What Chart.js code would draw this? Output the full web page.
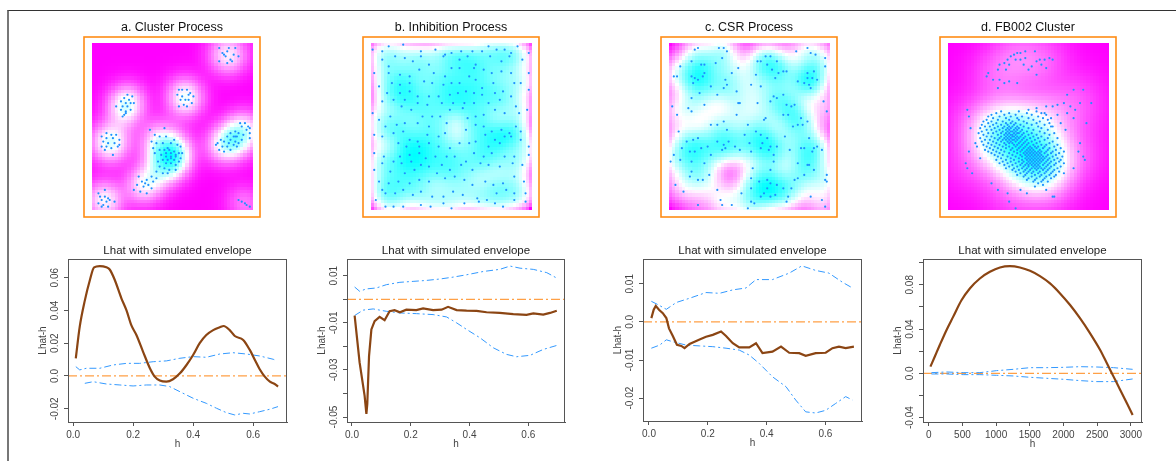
<!DOCTYPE html>
<html>
<head>
<meta charset="utf-8">
<script src="https://cdn.jsdelivr.net/npm/chart.js@4.4.1/dist/chart.umd.min.js"></script>
<style>
    body { margin: 0; background: #fff; width: 1176px; height: 461px; overflow: hidden; position: relative; }
    #frame { position: absolute; left: 7px; top: 10px; right: 0; bottom: 0; border-top: 1px solid #333; border-left: 2px solid #777; }
    canvas { position: absolute; }
</style>
</head>
<body>
<div id="frame"></div>
<script>
// Point patterns, in percent of the unit window (x right, y up).
const clusterPoints = [
    [79,97],[85,97],[89,97],[81,94],[84,95],[88,93],[91,92],[83,92],[86,90],[79,89],[84,88],[87,89],[82,93],
    [54,72],[56,72],[59,72],[61,70],[53,69],[56,68],[60,69],[63,68],[55,66],[58,66],[60,66],[62,64],[54,62],[57,63],[59,62],
    [22,69],[25,68],[20,67],[23,66],[18,65],[21,64],[24,64],[15,62],[19,62],[22,62],[26,64],[18,60],[21,59],[24,60],[20,57],[19,56],[21,58],
    [9,46],[12,45],[15,45],[6,44],[9,43],[13,43],[17,42],[7,41],[10,40],[14,40],[17,39],[6,38],[9,38],[12,37],[16,38],[13,33],[8,36],
    [36,48],[45,49],[39,45],[42,44],[46,44],[51,42],[37,41],[40,40],[44,40],[49,40],[53,39],[55,38],
    [38,37],[42,36],[45,36],[48,36],[51,35],[54,34],[56,34],[39,34],[43,33],[46,32],[49,32],[52,32],[55,31],[44,30],[47,30],[51,30],
    [54,29],[41,29],[46,28],[49,28],[52,27],[42,26],[45,25],[48,24],[52,24],[40,23],[44,22],[47,22],
    [46,34],[49,34],[47,37],[52,33],[49,31],
    [37,20],[40,19],[34,18],[38,17],[31,17],[35,15],[28,15],[32,14],[37,13],[26,12],[30,11],[34,10],[33,16],[29,20],
    [92,52],[95,52],[97,50],[98,49],[93,50],[96,48],[98,46],[98,43],[89,47],[91,46],[94,45],[86,46],[88,44],[90,44],[93,42],[84,44],
    [86,42],[89,41],[91,40],[80,42],[82,41],[85,40],[88,39],[90,38],[78,40],[81,38],[84,38],[86,36],[77,39],[79,36],[82,35],[89,44],
    [4,10],[8,12],[5,8],[8,8],[10,7],[6,6],[9,5],[11,6],[14,5],[4,4],[7,3],[10,2],[6,2],
    [91,6],[93,5],[95,4],[96,3],[98,2]
]

const inhibitionPoints = [
    [1,96],[7,95],[11,98],[20,99],[31,95],[40,96],[46,93],[50,94],[56,95],[63,95],[69,95],[73,98],[78,96],[83,96],[87,94],[91,98],[98,94],
    [7,90],[11,86],[15,92],[21,91],[26,89],[31,92],[36,87],[45,92],[55,90],[60,92],[65,87],[74,92],[81,89],[86,92],[94,90],
    [2,82],[11,82],[18,81],[24,80],[30,84],[39,82],[46,80],[50,85],[55,85],[64,85],[70,84],[75,82],[81,83],[87,82],[98,82],
    [5,74],[13,76],[18,75],[24,76],[33,77],[38,76],[45,75],[50,76],[55,76],[61,80],[65,78],[69,73],[76,76],[82,71],[89,76],[93,76],
    [10,70],[18,70],[24,71],[29,68],[36,68],[42,68],[49,69],[54,70],[59,71],[64,70],[69,69],[77,70],[87,68],[98,72],
    [7,65],[14,66],[21,66],[29,64],[35,63],[44,64],[51,64],[58,64],[64,64],[73,64],[80,66],[90,62],
    [1,58],[5,54],[12,56],[19,62],[25,60],[32,56],[38,56],[43,56],[49,60],[57,61],[60,55],[65,56],[70,57],[77,60],[83,58],[92,58],[97,60],
    [9,50],[16,51],[21,52],[29,52],[36,50],[47,52],[59,48],[65,51],[70,50],[75,47],[81,48],[86,46],[90,50],[93,47],[2,45],
    [7,44],[14,46],[20,47],[24,42],[29,41],[35,45],[42,44],[46,46],[65,41],[71,45],[77,42],[83,44],[87,44],[93,42],[98,38],
    [17,40],[22,38],[30,38],[36,40],[42,38],[49,37],[55,40],[61,40],[73,38],[80,40],
    [2,34],[8,32],[14,29],[18,32],[24,33],[30,34],[34,31],[40,32],[47,32],[52,32],[59,29],[64,34],[70,32],[75,34],[83,32],[89,32],[98,33],
    [7,28],[19,28],[25,29],[31,27],[36,26],[44,27],[49,24],[56,27],[63,24],[68,28],[73,27],[80,26],[88,28],[94,27],[12,23],[21,22],[27,24],[41,22],
    [2,24],[5,17],[11,16],[17,17],[24,16],[30,18],[36,17],[46,19],[52,20],[58,18],[63,15],[71,17],[76,15],[82,16],[89,20],[95,17],
    [9,10],[15,10],[20,12],[26,9],[31,11],[38,8],[45,8],[51,11],[57,9],[66,7],[72,6],[78,10],[84,12],[89,10],[96,10],[3,6],[7,12],
    [9,2],[14,2],[20,2],[31,3],[37,2],[45,4],[50,1],[58,4],[67,5],[77,4],[89,6],[96,5],[82,2]
]

const csrPoints = [
    [3,80],[5,80],[7,86],[14,89],[16,96],[18,97],[18,78],[16,79],[15,76],[14,80],[20,87],[22,87],[21,80],[19,70],[22,82],[26,74],[14,67],[29,88],[30,69],
    [31,97],[34,97],[33,91],[36,95],[39,82],[43,85],[35,78],[36,75],[34,73],[42,71],[44,64],
    [55,89],[57,89],[60,92],[61,87],[63,92],[64,84],[67,89],[68,82],[71,83],[66,79],[54,81],[51,75],[57,74],[73,83],[79,95],[86,97],[88,94],
    [91,93],[90,83],[89,79],[86,79],[84,76],[80,77],[87,75],[88,73],[92,78],[97,86],[97,91],[86,82],
    [2,62],[5,57],[12,61],[14,59],[22,63],[34,53],[42,57],[43,64],[26,51],[30,51],[49,51],[55,64],[59,54],[60,55],[63,65],[65,68],
    [67,67],[71,69],[73,63],[71,57],[74,57],[77,50],[80,51],[83,51],[76,62],[78,63],[96,65],[98,59],[82,55],[86,53],[36,48],
    [6,47],[11,41],[15,42],[18,43],[8,37],[13,35],[16,35],[20,37],[24,38],[30,41],[34,39],[37,41],[33,36],[35,37],[26,33],[3,33],
    [1,29],[7,30],[14,29],[22,28],[41,38],[44,36],[50,40],[51,35],[47,45],[54,47],[57,45],[58,40],[61,43],[63,38],[62,36],[57,37],
    [67,38],[65,29],[65,33],[75,36],[72,44],[87,43],[90,37],[92,38],[95,36],[89,35],[82,37],[84,37],[86,27],[80,28],
    [14,23],[13,20],[18,18],[21,18],[25,21],[30,12],[32,6],[33,3],[18,3],[9,11],[4,15],[52,25],[51,19],[56,17],[61,18],[63,24],
    [67,15],[63,8],[66,9],[71,13],[74,8],[73,5],[76,13],[78,18],[80,19],[84,21],[87,27],[98,21],[97,18],[98,17],[90,24],[88,8],
    [95,6],[97,2],[45,10],[51,13],[53,4],[57,8],[59,10],[51,5],[49,1],[39,3],[63,16],[61,13]
]

// FB002: scattered points plus the dense core, the core kept as rows of x at one y.
const fb002Scatter = [
    [43,94],[45,94],[48,95],[41,93],[39,92],[37,90],[42,90],[45,90],[48,91],[35,88],[32,87],[38,87],[47,87],[54,95],[55,89],[57,90],
    [60,90],[63,91],[65,90],[58,87],[61,85],[52,86],[55,81],[50,84],[36,84],[31,84],[25,82],[24,80],[28,78],[32,78],[35,76],[38,77],
    [43,76],[31,73],
    [78,72],[84,72],[89,64],[74,69],[72,64],[68,63],[65,62],[61,62],[76,62],[82,64],[60,58],[68,57],[74,58],[78,55],[70,52],[64,50],
    [73,48],[86,52],[79,60],[55,61],[50,60],
    [12,60],[13,56],[14,49],[18,38],[13,35],[11,28],[12,25],[15,22],[20,31],[17,40],
    [27,16],[31,12],[38,5],[42,1],[37,10],[45,12],[49,10],[54,14],[59,15],[65,8],[66,8],[61,12],[84,32],[85,30],[81,35],[82,40],
    [78,25],[72,22]
]
const fb002CoreRows = [
    [59, [33, 44, 55]],
    [58, [30, 38, 49, 58]],
    [57, [27, 35, 42, 52, 61]],
    [56, [25, 32, 39, 46, 56]],
    [55, [28, 36, 43, 50, 59, 64]],
    [54, [24, 31, 38, 44, 53, 62]],
    [53, [22, 27, 34, 40, 47, 57]],
    [52, [25, 30, 36, 39, 42, 49, 55, 63]],
    [51, [21, 28, 33, 37, 41, 45, 52, 60]],
    [50, [23, 26, 31, 35, 38, 40, 43, 47, 56, 65]],
    [49, [20, 29, 34, 37, 39, 42, 44, 50, 58]],
    [48, [24, 27, 32, 36, 38, 41, 43, 46, 53, 62]],
    [47, [21, 30, 34, 37, 39, 40, 42, 45, 49, 57]],
    [46, [19, 25, 28, 33, 36, 38, 41, 43, 44, 47, 52, 60, 66]],
    [45, [22, 31, 35, 37, 39, 40, 42, 46, 50, 55, 63]],
    [44, [24, 27, 33, 36, 38, 40, 41, 43, 45, 48, 53, 58]],
    [43, [20, 29, 32, 35, 37, 39, 42, 44, 47, 51, 56, 62, 68]],
    [42, [23, 26, 31, 34, 36, 38, 40, 41, 43, 46, 49, 54, 60]],
    [41, [21, 28, 33, 37, 39, 42, 45, 48, 52, 57, 65]],
    [40, [25, 30, 35, 38, 40, 44, 47, 50, 55, 63]],
    [39, [22, 27, 32, 36, 41, 43, 46, 49, 53, 58, 61, 68]],
    [38, [24, 29, 34, 38, 42, 45, 48, 51, 54, 56, 60, 66]],
    [37, [26, 31, 36, 40, 44, 47, 50, 52, 55, 59, 63, 70]],
    [36, [23, 28, 33, 39, 43, 46, 49, 51, 53, 57, 62, 67]],
    [35, [25, 30, 35, 41, 45, 48, 50, 52, 54, 56, 58, 61, 65, 72]],
    [34, [27, 32, 38, 43, 47, 49, 51, 53, 55, 57, 60, 64, 69]],
    [33, [29, 34, 40, 45, 48, 50, 52, 54, 56, 58, 62, 67]],
    [32, [31, 37, 42, 46, 49, 51, 53, 55, 57, 59, 61, 65, 71]],
    [31, [33, 39, 44, 48, 50, 52, 54, 56, 58, 60, 63, 68]],
    [30, [30, 36, 41, 46, 49, 51, 53, 55, 57, 59, 62, 66, 70]],
    [29, [34, 39, 44, 47, 50, 52, 54, 56, 58, 61, 64, 69]],
    [28, [32, 37, 42, 46, 49, 51, 53, 55, 57, 60, 63, 67, 72]],
    [27, [35, 40, 45, 48, 50, 52, 54, 56, 59, 62, 66]],
    [26, [38, 43, 47, 50, 53, 55, 57, 61, 64, 70]],
    [25, [36, 41, 46, 49, 52, 54, 56, 58, 60, 63, 68]],
    [24, [40, 44, 48, 51, 55, 59, 62, 66]],
    [23, [42, 47, 50, 53, 57, 61, 65, 69]],
    [22, [45, 49, 52, 56, 60, 64]],
    [21, [43, 48, 54, 58, 63, 67]],
    [20, [47, 52, 57, 61, 66]],
    [19, [50, 55, 60, 64]],
    [18, [49, 54, 59]],
    [17, [53, 58, 62]],
    [16, [56]]
]

const panelTitles = ['a. Cluster Process', 'b. Inhibition Process', 'c. CSR Process', 'd. FB002 Cluster']

// Lhat - h curves and their simulated envelopes, [h, value].
const clusterLhat = [[0.009,0.0108],[0.022,0.030],[0.039,0.046],[0.056,0.0586],[0.07,0.0663],[0.089,0.0671],[0.111,0.0663],[0.122,0.065],[0.139,0.0586],[0.161,0.0474],[0.178,0.040],[0.194,0.031],[0.211,0.025],[0.233,0.0149],[0.256,0.0047],[0.272,-0.0004],[0.289,-0.0028],[0.311,-0.0035],[0.333,-0.002],[0.356,0.0016],[0.378,0.0067],[0.4,0.0128],[0.422,0.020],[0.444,0.025],[0.467,0.028],[0.489,0.0297],[0.502,0.0305],[0.522,0.028],[0.539,0.0244],[0.567,0.022],[0.589,0.0159],[0.606,0.0098],[0.622,0.0041],[0.639,-0.0004],[0.656,-0.0035],[0.672,-0.0049],[0.683,-0.0065]]
const clusterUpper = [[0.009,0.0057],[0.022,0.0037],[0.044,0.0047],[0.089,0.0047],[0.133,0.0067],[0.178,0.0077],[0.222,0.0077],[0.267,0.0087],[0.311,0.0092],[0.356,0.0108],[0.4,0.0118],[0.444,0.0114],[0.489,0.0134],[0.533,0.0142],[0.578,0.0134],[0.622,0.0122],[0.667,0.0102],[0.678,0.0094]]
const clusterLower = [[0.039,-0.0045],[0.067,-0.0035],[0.111,-0.0049],[0.156,-0.0055],[0.2,-0.0061],[0.244,-0.0055],[0.289,-0.0055],[0.322,-0.0065],[0.356,-0.0096],[0.4,-0.0136],[0.444,-0.0167],[0.478,-0.0197],[0.511,-0.0224],[0.539,-0.0238],[0.567,-0.0228],[0.589,-0.0232],[0.622,-0.0218],[0.656,-0.0203],[0.683,-0.0187]]

const inhibitionLhat = [[0.009,-0.0069],[0.026,-0.0269],[0.043,-0.041],[0.049,-0.0487],[0.052,-0.0445],[0.058,-0.0241],[0.066,-0.0128],[0.077,-0.0093],[0.094,-0.0075],[0.111,-0.0089],[0.128,-0.0051],[0.145,-0.0046],[0.163,-0.0055],[0.185,-0.0044],[0.219,-0.0046],[0.242,-0.0039],[0.276,-0.0046],[0.305,-0.0044],[0.327,-0.0032],[0.356,-0.0046],[0.39,-0.0048],[0.424,-0.0049],[0.458,-0.0055],[0.503,-0.0058],[0.549,-0.0063],[0.594,-0.0066],[0.617,-0.006],[0.651,-0.0065],[0.674,-0.0058],[0.697,-0.0049]]
const inhibitionUpper = [[0.009,0.0052],[0.026,0.0034],[0.049,0.0044],[0.083,0.0048],[0.117,0.0062],[0.163,0.0072],[0.208,0.0076],[0.253,0.008],[0.299,0.0086],[0.344,0.0094],[0.39,0.0104],[0.447,0.0118],[0.503,0.0127],[0.538,0.0141],[0.572,0.0132],[0.617,0.0127],[0.663,0.0113],[0.697,0.009]]
const inhibitionLower = [[0.009,-0.0069],[0.038,-0.0046],[0.072,-0.0041],[0.117,-0.0051],[0.163,-0.0058],[0.219,-0.0061],[0.276,-0.0065],[0.322,-0.0075],[0.356,-0.01],[0.39,-0.0128],[0.435,-0.0163],[0.481,-0.0206],[0.526,-0.0234],[0.56,-0.0244],[0.606,-0.0238],[0.651,-0.0213],[0.697,-0.0196]]

const csrLhat = [[0.008,0.001],[0.016,0.0032],[0.023,0.0042],[0.034,0.0032],[0.047,0.0023],[0.059,0.001],[0.068,-0.0017],[0.081,-0.0037],[0.095,-0.006],[0.11,-0.0063],[0.121,-0.0069],[0.138,-0.0058],[0.155,-0.0052],[0.172,-0.0046],[0.194,-0.0039],[0.217,-0.0034],[0.245,-0.0025],[0.262,-0.0037],[0.285,-0.0056],[0.307,-0.0067],[0.341,-0.0067],[0.364,-0.0056],[0.386,-0.0082],[0.42,-0.0078],[0.449,-0.0065],[0.477,-0.0081],[0.511,-0.0082],[0.533,-0.0089],[0.567,-0.0082],[0.601,-0.0081],[0.624,-0.0069],[0.646,-0.0065],[0.669,-0.0069],[0.697,-0.0065]]
const csrUpper = [[0.008,0.0054],[0.031,0.0045],[0.059,0.0033],[0.093,0.0051],[0.138,0.0062],[0.194,0.0077],[0.24,0.0075],[0.285,0.0084],[0.33,0.0089],[0.364,0.0111],[0.42,0.0111],[0.477,0.0128],[0.52,0.0147],[0.567,0.0135],[0.612,0.0128],[0.658,0.0104],[0.692,0.0089]]
const csrLower = [[0.008,-0.0069],[0.036,-0.0061],[0.059,-0.0047],[0.081,-0.0052],[0.127,-0.0061],[0.172,-0.0063],[0.217,-0.0065],[0.262,-0.0069],[0.307,-0.0074],[0.341,-0.0087],[0.375,-0.0109],[0.42,-0.0144],[0.466,-0.017],[0.499,-0.0205],[0.533,-0.0236],[0.567,-0.0239],[0.601,-0.0232],[0.635,-0.0214],[0.669,-0.0196],[0.692,-0.0205]]

const fb002Lhat = [[25,0.006],[89,0.015],[164,0.0256],[263,0.039],[362,0.051],[486,0.066],[610,0.0767],[759,0.0857],[908,0.0917],[1057,0.0956],[1205,0.0968],[1354,0.0956],[1503,0.0926],[1651,0.0878],[1800,0.0812],[1949,0.0722],[2098,0.0617],[2247,0.0496],[2395,0.0361],[2544,0.0211],[2644,0.009],[2743,-0.003],[2842,-0.015],[2941,-0.0271],[3026,-0.0376]]
const fb002Upper = [[40,0.0006],[263,0.0012],[511,0.0006],[759,0.0006],[1007,0.0024],[1255,0.0036],[1503,0.0051],[1751,0.0051],[1999,0.0054],[2247,0.006],[2495,0.0057],[2743,0.0051],[3026,0.0036]]
const fb002Lower = [[40,-0.0006],[263,-0.0006],[511,-0.0012],[759,-0.0012],[1007,-0.0018],[1255,-0.0024],[1503,-0.0036],[1751,-0.0045],[1999,-0.0054],[2247,-0.0066],[2495,-0.0075],[2743,-0.0075],[3026,-0.0051]]

const referenceLevel = 0

// Axis ranges and ticks.
const unitXRange = [-0.017, 0.713]
const unitXTicks = [0, 0.2, 0.4, 0.6]
const unitXLabels = ['0.0', '0.2', '0.4', '0.6']
const fb002XRange = [-85, 3165]
const fb002XTicks = [0, 500, 1000, 1500, 2000, 2500, 3000]
const fb002XLabels = ['0', '500', '1000', '1500', '2000', '2500', '3000']

const clusterYRange = [-0.0281, 0.0714]
const clusterYTicks = [-0.02, 0, 0.02, 0.04, 0.06]
const clusterYLabels = ['-0.02', '0.0', '0.02', '0.04', '0.06']
const inhibitionYRange = [-0.0521, 0.0171]
const inhibitionYTicks = [-0.05, -0.04, -0.03, -0.02, -0.01, 0, 0.01]
const inhibitionYLabels = ['-0.05', '', '-0.03', '', '-0.01', '', '0.01']
const csrYRange = [-0.026, 0.0165]
const csrYTicks = [-0.02, -0.01, 0, 0.01]
const csrYLabels = ['-0.02', '-0.01', '0.0', '0.01']
const fb002YRange = [-0.044, 0.1033]
const fb002YTicks = [-0.04, -0.02, 0, 0.02, 0.04, 0.06, 0.08, 0.1]
const fb002YLabels = ['-0.04', '', '0.0', '', '0.04', '', '0.08', '']

Chart.defaults.font.family = "'Liberation Sans', Arial, sans-serif"
Chart.defaults.animation = false
Chart.defaults.responsive = false
Chart.defaults.events = []
Chart.defaults.plugins.legend.display = false
Chart.defaults.plugins.tooltip.enabled = false

const FONT = "'Liberation Sans', Arial, sans-serif"

// Creates a canvas at a fixed place on the page.
function makeCanvas(left, top, width, height) {
    const canvas = document.createElement('canvas')
    canvas.width = width
    canvas.height = height
    canvas.style.left = left + 'px'
    canvas.style.top = top + 'px'
    document.body.append(canvas)
    return canvas
}

// magenta (low) -> white -> cyan (high)
function densityColour(t) {
    if (t < 0.5) {
        return `rgb(255,${Math.round(510 * t)},255)`
    }
    return `rgb(${Math.round(255 * (2 - 2 * t))},255,255)`
}

// Kernel density image behind the points, orange frame and title.
const densityImage = {
    id: 'densityImage',
    beforeDatasetsDraw(chart, args, opts) {
        const { ctx, scales: { x, y } } = chart
        const n = 50
        const step = 100 / n
        const s2 = 2 * opts.sigma * opts.sigma
        const z = []
        let zmin = Infinity
        let zmax = -Infinity
        for (let j = 0; j < n; j++) {
            for (let i = 0; i < n; i++) {
                const cx = (i + 0.5) * step
                const cy = (j + 0.5) * step
                let sum = 0
                for (const [px, py] of opts.points) {
                    const dx = px - cx
                    const dy = py - cy
                    sum += Math.exp(-(dx * dx + dy * dy) / s2)
                }
                z.push(sum)
                zmin = Math.min(zmin, sum)
                zmax = Math.max(zmax, sum)
            }
        }
        ctx.save()
        for (let j = 0; j < n; j++) {
            for (let i = 0; i < n; i++) {
                const t = Math.pow((z[j * n + i] - zmin) / (zmax - zmin), opts.gamma)
                const x0 = Math.round(x.getPixelForValue(i * step))
                const x1 = Math.round(x.getPixelForValue((i + 1) * step))
                const y0 = Math.round(y.getPixelForValue((j + 1) * step))
                const y1 = Math.round(y.getPixelForValue(j * step))
                ctx.fillStyle = densityColour(t)
                ctx.fillRect(x0, y0, x1 - x0, y1 - y0)
            }
        }
        ctx.restore()
    },
    afterDraw(chart, args, opts) {
        const { ctx, chartArea: a } = chart
        ctx.save()
        ctx.strokeStyle = 'rgb(255,140,20)'
        ctx.lineWidth = 1.6
        ctx.strokeRect(a.left - 8, a.top - 6, a.right - a.left + 15, a.bottom - a.top + 13)
        ctx.fillStyle = '#111'
        ctx.font = `12.5px ${FONT}`
        ctx.textAlign = 'center'
        ctx.textBaseline = 'middle'
        ctx.fillText(opts.title, (a.left + a.right) / 2 - 0.5, a.top - 15)
        ctx.restore()
    },
}

// Box, title, rotated y labels and axis titles of an envelope plot.
const envelopeFrame = {
    id: 'envelopeFrame',
    afterDraw(chart, args, opts) {
        const { ctx, chartArea: a, scales: { y } } = chart
        ctx.save()
        ctx.strokeStyle = '#555'
        ctx.lineWidth = 1
        ctx.strokeRect(a.left + 0.5, a.top + 0.5, a.right - a.left - 1, a.bottom - a.top)

        ctx.fillStyle = '#222'
        ctx.font = `11.5px ${FONT}`
        ctx.textAlign = 'center'
        ctx.textBaseline = 'middle'
        ctx.fillText('Lhat with simulated envelope', (a.left + a.right) / 2, a.top - 8)

        ctx.fillStyle = '#444'
        ctx.font = `10px ${FONT}`
        ctx.fillText('h', (a.left + a.right) / 2, a.bottom + 22)

        opts.yTicks.forEach((v, i) => {
            if (!opts.yLabels[i]) return
            ctx.save()
            ctx.translate(a.left - 13, y.getPixelForValue(v))
            ctx.rotate(-Math.PI / 2)
            ctx.fillText(opts.yLabels[i], 0, 0)
            ctx.restore()
        })

        ctx.translate(a.left - 25, (a.top + a.bottom) / 2)
        ctx.rotate(-Math.PI / 2)
        ctx.fillText('Lhat-h', 0, 0)
        ctx.restore()
    },
}

function patternChart(boxLeft, points, sigma, gamma, title) {
    const canvas = makeCanvas(boxLeft - 10, 12, 196, 215)
    return new Chart(canvas, {
        type: 'scatter',
        data: {
            datasets: [{
                data: points.map(([x, y]) => ({ x, y })),
                backgroundColor: 'rgb(30,144,255)',
                borderWidth: 0,
                pointRadius: 1.1,
            }],
        },
        options: {
            layout: { autoPadding: false, padding: { left: 18, right: 17, top: 31, bottom: 17 } },
            scales: {
                x: { display: false, min: 0, max: 100 },
                y: { display: false, min: 0, max: 100 },
            },
            plugins: { densityImage: { points, sigma, gamma, title } },
        },
        plugins: [densityImage],
    })
}

function envelopeChart(p) {
    const boxW = p.boxRight - p.boxLeft
    const boxH = p.boxBottom - 259
    const canvas = makeCanvas(p.boxLeft - 48, 236, boxW + 48 + 13, 225)
    const toXY = d => d.map(([x, y]) => ({ x, y }))
    return new Chart(canvas, {
        type: 'line',
        data: {
            datasets: [
                {
                    data: toXY(p.lhat),
                    borderColor: 'rgb(139,69,19)',
                    borderWidth: 2.2,
                    cubicInterpolationMode: p.smooth ? 'monotone' : 'default',
                },
                {
                    data: toXY(p.upper),
                    borderColor: 'rgb(51,153,255)',
                    borderWidth: 1,
                    borderDash: [7, 3, 2, 3],
                },
                {
                    data: toXY(p.lower),
                    borderColor: 'rgb(51,153,255)',
                    borderWidth: 1,
                    borderDash: [7, 3, 2, 3],
                },
                {
                    data: [{ x: p.xRange[0], y: referenceLevel }, { x: p.xRange[1], y: referenceLevel }],
                    borderColor: 'rgb(255,160,70)',
                    borderWidth: 1.2,
                    borderDash: [9, 3, 2, 3],
                },
            ],
        },
        options: {
            elements: { point: { radius: 0 } },
            layout: { autoPadding: false, padding: { top: 23, right: 13, left: 0, bottom: 0 } },
            scales: {
                x: {
                    type: 'linear',
                    min: p.xRange[0],
                    max: p.xRange[1],
                    afterBuildTicks: s => { s.ticks = p.xTicks.map(value => ({ value })) },
                    afterFit: s => { s.height = 225 - 23 - boxH },
                    ticks: {
                        autoSkip: false,
                        maxRotation: 0,
                        padding: 3,
                        color: '#444',
                        font: { size: 10 },
                        callback: (v, i) => p.xLabels[i],
                    },
                    grid: { drawOnChartArea: false, tickLength: 4, color: '#555' },
                    border: { color: '#555' },
                },
                y: {
                    type: 'linear',
                    min: p.yRange[0],
                    max: p.yRange[1],
                    afterBuildTicks: s => { s.ticks = p.yTicks.map(value => ({ value })) },
                    afterFit: s => { s.width = 48 },
                    ticks: { display: false },
                    grid: { drawOnChartArea: false, tickLength: 4, color: '#555' },
                    border: { color: '#555' },
                },
            },
            plugins: { envelopeFrame: { yTicks: p.yTicks, yLabels: p.yLabels } },
        },
        plugins: [envelopeFrame],
    })
}

const fb002Points = fb002Scatter.concat(...fb002CoreRows.map(([y, xs]) => xs.map(x => [x, y])))

patternChart(84, clusterPoints, 7, 0.85, panelTitles[0])
patternChart(363, inhibitionPoints, 6.5, 0.6, panelTitles[1])
patternChart(661, csrPoints, 7, 0.7, panelTitles[2])
patternChart(940, fb002Points, 9, 0.6, panelTitles[3])

envelopeChart({ boxLeft: 68, boxRight: 287, boxBottom: 422, lhat: clusterLhat, upper: clusterUpper, lower: clusterLower, smooth: true,
    xRange: unitXRange, xTicks: unitXTicks, xLabels: unitXLabels, yRange: clusterYRange, yTicks: clusterYTicks, yLabels: clusterYLabels })
envelopeChart({ boxLeft: 347, boxRight: 565, boxBottom: 422, lhat: inhibitionLhat, upper: inhibitionUpper, lower: inhibitionLower, smooth: false,
    xRange: [-0.017, 0.725], xTicks: unitXTicks, xLabels: unitXLabels, yRange: inhibitionYRange, yTicks: inhibitionYTicks, yLabels: inhibitionYLabels })
envelopeChart({ boxLeft: 643, boxRight: 862, boxBottom: 421, lhat: csrLhat, upper: csrUpper, lower: csrLower, smooth: false,
    xRange: [-0.0204, 0.7245], xTicks: unitXTicks, xLabels: unitXLabels, yRange: csrYRange, yTicks: csrYTicks, yLabels: csrYLabels })
envelopeChart({ boxLeft: 923, boxRight: 1142, boxBottom: 422, lhat: fb002Lhat, upper: fb002Upper, lower: fb002Lower, smooth: true,
    xRange: fb002XRange, xTicks: fb002XTicks, xLabels: fb002XLabels, yRange: fb002YRange, yTicks: fb002YTicks, yLabels: fb002YLabels })
</script>
</body>
</html>
